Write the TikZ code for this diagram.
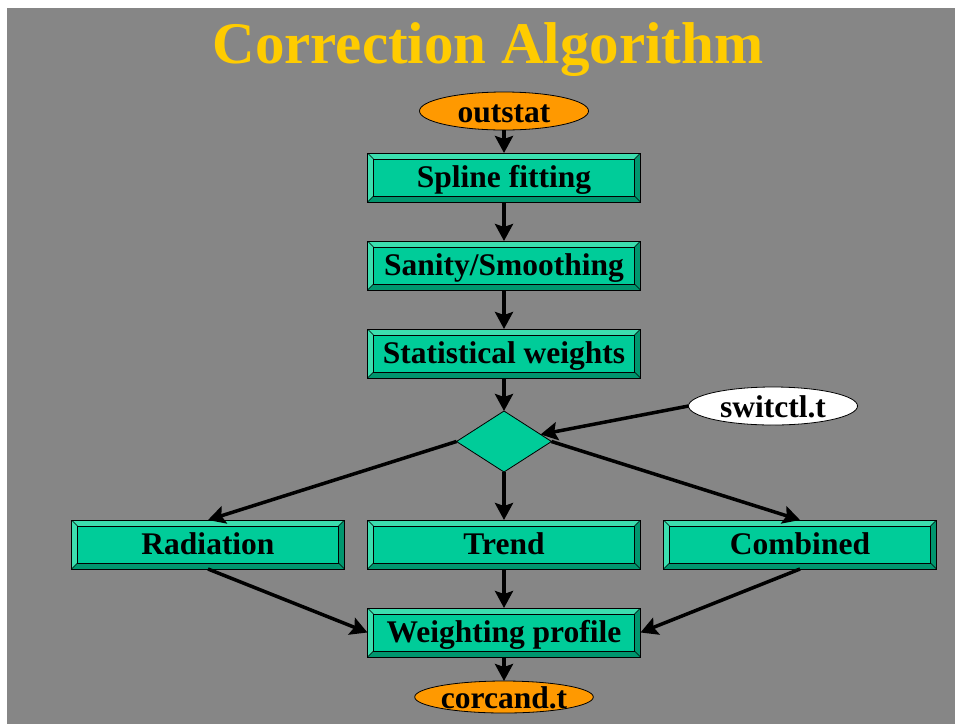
\documentclass[tikz,border=0pt]{standalone}
\usepackage{fontspec}
\setmainfont{Liberation Serif}
\usetikzlibrary{%
    arrows.meta,%
    positioning,%
    shapes.geometric
    }
\definecolor{mygray}{RGB}{134,134,134}
\definecolor{mygreen}{RGB}{0,204,153}
\definecolor{mygreenlight}{RGB}{60,222,175}
\definecolor{mygreendark}{RGB}{0,150,110}
\definecolor{myorange}{RGB}{255,153,0}
\definecolor{myyellow}{RGB}{255,204,0}
\tikzset{
  bevelbox/.style={
    rectangle,
    minimum width=273pt,
    minimum height=49pt,
    outer sep=0pt,
    text height=21pt,
    text depth=2pt,
    align=center,
    draw=black,
    line width=0.8pt,
    fill=mygreen,
    font=\fontsize{31.5}{36}\selectfont\bfseries,
    path picture={
      \coordinate (bnw) at (path picture bounding box.north west);
      \coordinate (bse) at (path picture bounding box.south east);
      \coordinate (bne) at (bse|-bnw);
      \coordinate (bsw) at (bnw|-bse);
      \fill[mygreenlight] (bnw) -- (bne) -- ([shift={(-6pt,-6pt)}]bne)
        -- ([shift={(6pt,-6pt)}]bnw) -- cycle;
      \fill[mygreenlight] (bnw) -- ([shift={(6pt,-6pt)}]bnw)
        -- ([shift={(6pt,6pt)}]bsw) -- (bsw) -- cycle;
      \fill[mygreendark] (bsw) -- (bse) -- ([shift={(-6pt,6pt)}]bse)
        -- ([shift={(6pt,6pt)}]bsw) -- cycle;
      \fill[mygreendark] (bne) -- ([shift={(-6pt,-6pt)}]bne)
        -- ([shift={(-6pt,6pt)}]bse) -- (bse) -- cycle;
      \draw[line width=0.4pt] ([shift={(6pt,-6pt)}]bnw) rectangle ([shift={(-6pt,6pt)}]bse);
      \draw[line width=0.4pt] (bnw) -- ([shift={(6pt,-6pt)}]bnw)
        (bne) -- ([shift={(-6pt,-6pt)}]bne)
        (bse) -- ([shift={(-6pt,6pt)}]bse)
        (bsw) -- ([shift={(6pt,6pt)}]bsw);
    },
  },
  ioellipse/.style={
    ellipse,
    minimum width=169pt,
    minimum height=38pt,
    inner sep=0pt,
    outer sep=0pt,
    text height=22pt,
    text depth=0pt,
    draw=black,
    line width=0.8pt,
    fill=myorange,
    font=\fontsize{31.5}{36}\selectfont\bfseries,
  },
  switchellipse/.style={
    ioellipse,
    fill=white,
  },
  decision/.style={
    diamond,
    minimum width=95pt,
    minimum height=61pt,
    inner sep=0pt,
    outer sep=0pt,
    draw=black,
    line width=0.8pt,
    fill=mygreen,
  },
  heading/.style={
    anchor=base,
    font=\fontsize{59}{64}\selectfont\bfseries,
    text=myyellow,
  },
  arrowline/.style={
    -{Stealth[length=17pt,width=18pt,inset=3pt]},
    line width=3.5pt,
    black,
  },
}
\begin{document}
\begin{tikzpicture}[x=1pt,y=1pt,node distance=39pt and 23pt]
\fill[white] (0,0) rectangle (955,-724);
\fill[mygray] (7,-8) rectangle (955,-724);
\useasboundingbox (0,0) rectangle (955,-724);

\node[heading] (title) at (488,-63) {Correction Algorithm};

\node[ioellipse] 
  (outstat) 
  at (504,-111)
  {outstat};
\node[bevelbox,below=23pt of outstat] 
  (spline) 
  {Spline fitting};
\node[bevelbox,below=of spline] 
  (sanity) 
  {Sanity/Smoothing};
\node[bevelbox,below=of sanity] 
  (stats) 
  {Statistical weights};
\node[decision,below=33pt of stats] 
  (dec) 
  {};
\node[switchellipse] 
  (switch) 
  at (773,-406)
  {switctl.t};
\node[bevelbox,below=48pt of dec] 
  (trend) 
  {Trend};
\node[bevelbox,left=of trend] 
  (rad) 
  {Radiation};
\node[bevelbox,right=of trend] 
  (comb) 
  {Combined};
\node[bevelbox,below=of trend] 
  (weight) 
  {Weighting profile};
\node[ioellipse,minimum height=32pt,below=24pt of weight] 
  (corcand) 
  {corcand.t};

\begin{scope}[arrowline]
\draw
  (outstat) -- (spline);
\draw
  (spline) -- (sanity);
\draw
  (sanity) -- (stats);
\draw
  (stats) -- (dec);
\draw
  (switch.west) -- (dec);
\draw
  (dec.west) -- (rad.north);
\draw
  (dec) -- (trend);
\draw
  (dec.east) -- (comb.north);
\draw
  (rad.south) -- (weight.west);
\draw
  (trend) -- (weight);
\draw
  (comb.south) -- (weight.east);
\draw
  (weight) -- (corcand);
\end{scope}
\end{tikzpicture}
\end{document}
